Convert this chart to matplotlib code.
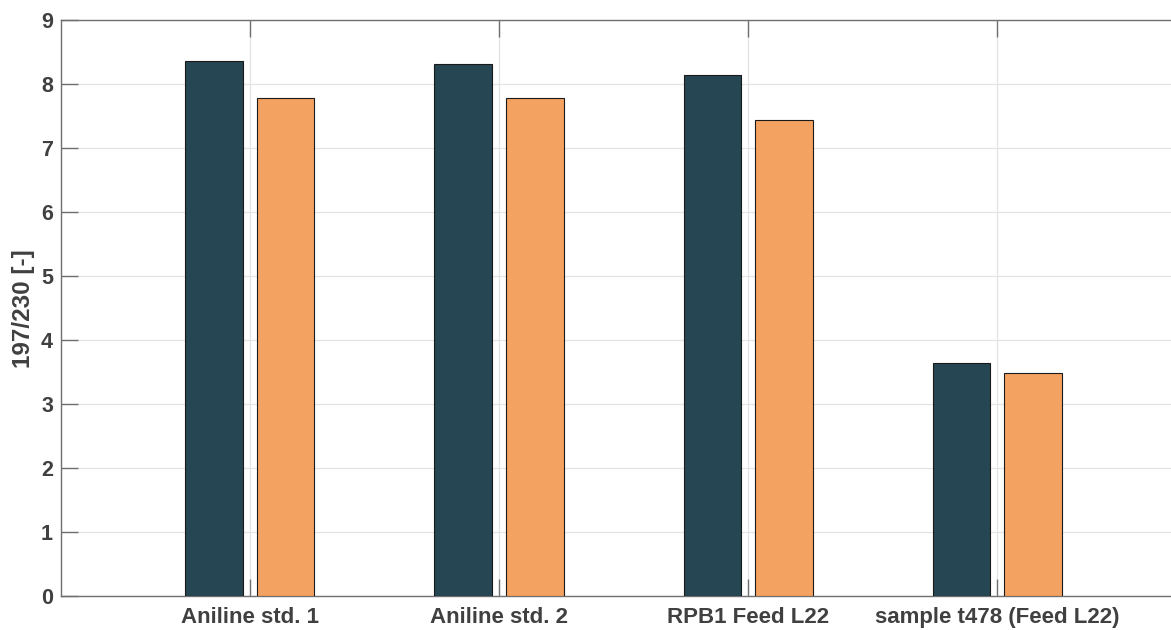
import numpy as np
import matplotlib.pyplot as plt

plt.rcParams['font.family'] = ['Liberation Sans', 'DejaVu Sans']

# ratio 197/230 for each sample, two measurements each
categories = ['Aniline std. 1', 'Aniline std. 2', 'RPB1 Feed L22', 'sample t478 (Feed L22)']
ratio_a = [8.37, 8.31, 8.15, 3.65]
ratio_b = [7.78, 7.78, 7.44, 3.49]
yticks = [0, 1, 2, 3, 4, 5, 6, 7, 8, 9]

c_dark = '#264653'
c_orange = '#F4A261'
txt = '#404040'
ax_col = '#707070'

fig = plt.figure(figsize=(11.71, 6.30), dpi=100)
# right spine falls outside the figure, like the reference
ax = fig.add_axes([61.3 / 1171, 34 / 630, 1124.6 / 1171, 575.7 / 630])

x = np.arange(1, len(categories) + 1)
w = 0.231
off = 0.1435
ax.bar(x - off, ratio_a, w, color=c_dark, edgecolor='#1a1a1a', linewidth=0.8, zorder=3)
ax.bar(x + off, ratio_b, w, color=c_orange, edgecolor='#1a1a1a', linewidth=0.8, zorder=3)

ax.set_xlim(0.2435, 4.7565)
ax.set_ylim(0, 9)
ax.set_xticks(x)
ax.set_xticklabels(categories)
ax.set_yticks(yticks)

ax.grid(True, color='#e3e3e3', linewidth=0.9, zorder=0)
ax.set_axisbelow(True)

for s in ax.spines.values():
    s.set_color(ax_col)
    s.set_linewidth(1.0)

ax.tick_params(axis='both', direction='in', length=12, width=1.0, color=ax_col,
               labelsize=16, labelcolor=txt, top=True, right=False)
ax.tick_params(axis='x', pad=8)
ax.tick_params(axis='y', pad=6, labelsize=15.5)
for lab in ax.get_xticklabels() + ax.get_yticklabels():
    lab.set_fontweight('bold')

ax.set_ylabel('197/230 [-]', fontsize=17.5, fontweight='bold', color=txt)
ax.yaxis.set_label_coords(-0.0235, 0.5)

fig.savefig('out.png', dpi=100)
